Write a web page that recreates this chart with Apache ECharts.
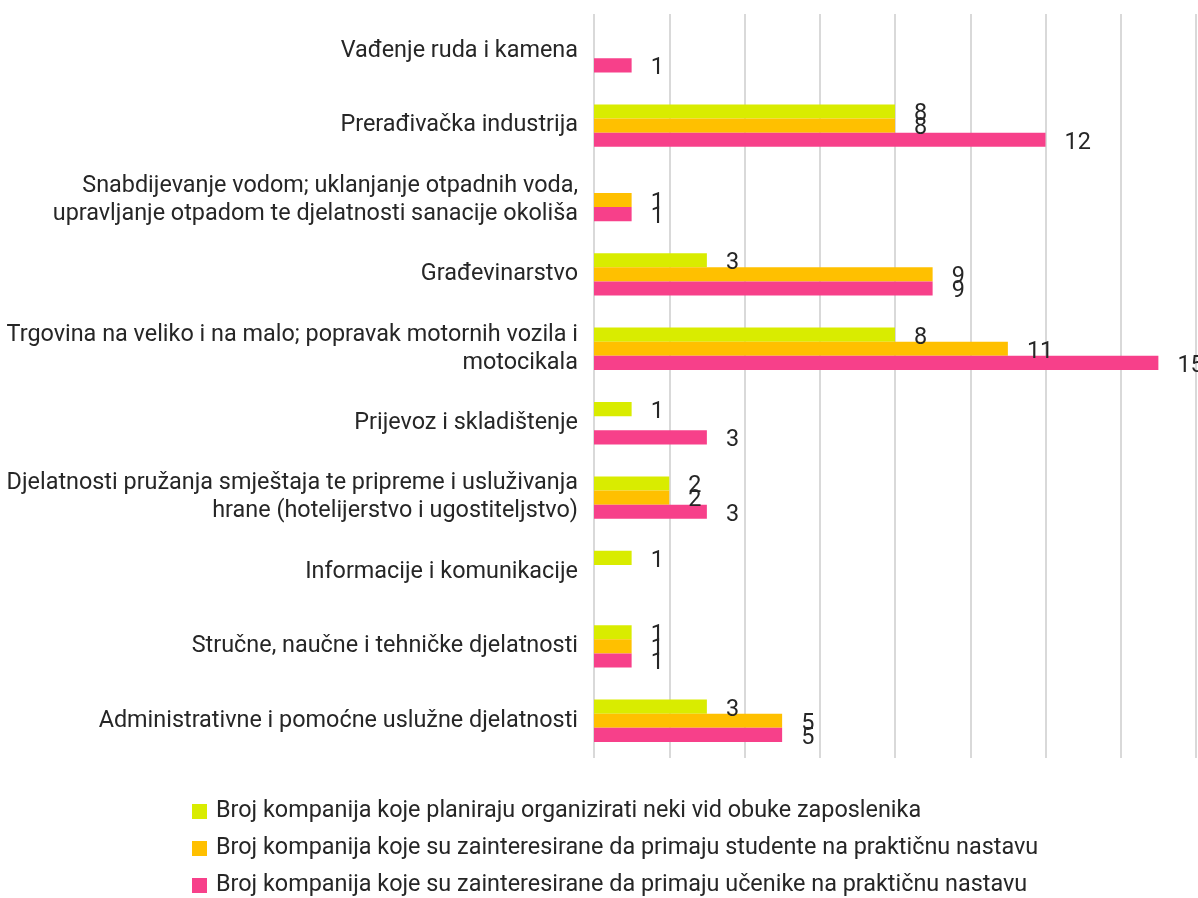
<!DOCTYPE html>
<html><head><meta charset="utf-8">
<script src="https://cdn.jsdelivr.net/npm/echarts@6/dist/echarts.min.js"></script>
<style>html,body{margin:0;padding:0;background:#fff}#c{width:1198px;height:898px}</style>
</head><body><div id="c"></div>
<script>
const categories = [
  "Vađenje ruda i kamena",
  "Prerađivačka industrija",
  "Snabdijevanje vodom; uklanjanje otpadnih voda,\nupravljanje otpadom te djelatnosti sanacije okoliša",
  "Građevinarstvo",
  "Trgovina na veliko i na malo; popravak motornih vozila i\nmotocikala",
  "Prijevoz i skladištenje",
  "Djelatnosti pružanja smještaja te pripreme i usluživanja\nhrane (hotelijerstvo i ugostiteljstvo)",
  "Informacije i komunikacije",
  "Stručne, naučne i tehničke djelatnosti",
  "Administrativne i pomoćne uslužne djelatnosti"
];
const seriesNames = [
  "Broj kompanija koje planiraju organizirati neki vid obuke zaposlenika",
  "Broj kompanija koje su zainteresirane da primaju studente na praktičnu nastavu",
  "Broj kompanija koje su zainteresirane da primaju učenike na praktičnu nastavu"
];
const obuka    = [null, 8, null, 3, 8, 1, 2, 1, 1, 3];
const studenti = [null, 8, 1, 9, 11, null, 2, null, 1, 5];
const ucenici  = [1, 12, 1, 9, 15, 3, 3, null, 1, 5];
const colors = ["#d9ec00", "#ffc000", "#f7408a"];

const FONT = "Roboto";
const FS = 23.4;
const chart = echarts.init(document.getElementById('c'), null, {renderer: 'canvas'});
const mk = (name, data, color) => ({
  name, type: 'bar', data, barGap: '0%', barCategoryGap: '43%',
  itemStyle: {color},
  label: {show: true, position: 'right', distance: 19, offset: [0, 3], color: '#262626', fontSize: FS, fontFamily: FONT},
  animation: false
});
chart.setOption({
  animation: false,
  textStyle: {fontFamily: FONT},
  grid: {left: 594, right: 2, top: 14, bottom: 140, containLabel: false},
  xAxis: {
    type: 'value', min: 0, max: 16, interval: 2,
    axisLabel: {show: false}, axisLine: {show: false}, axisTick: {show: false},
    splitLine: {show: true, lineStyle: {color: '#d9d9d9', width: 2}}
  },
  yAxis: {
    type: 'category', data: categories, inverse: true,
    axisLine: {show: false}, axisTick: {show: false},
    axisLabel: {color: '#262626', fontSize: FS, fontFamily: FONT, margin: 16, lineHeight: 28, align: 'right', padding: [9, 0, 0, 0]}
  },
  legend: {
    orient: 'vertical', left: 192, top: 800, height: 98, padding: 0, itemGap: 14, itemWidth: 15, itemHeight: 15,
    icon: 'rect', textStyle: {color: '#262626', fontSize: FS, fontFamily: FONT, lineHeight: 23, padding: [0, 0, 0, 4]},
    data: seriesNames
  },
  series: [mk(seriesNames[0], obuka, colors[0]), mk(seriesNames[1], studenti, colors[1]), mk(seriesNames[2], ucenici, colors[2])]
});
</script></body></html>
